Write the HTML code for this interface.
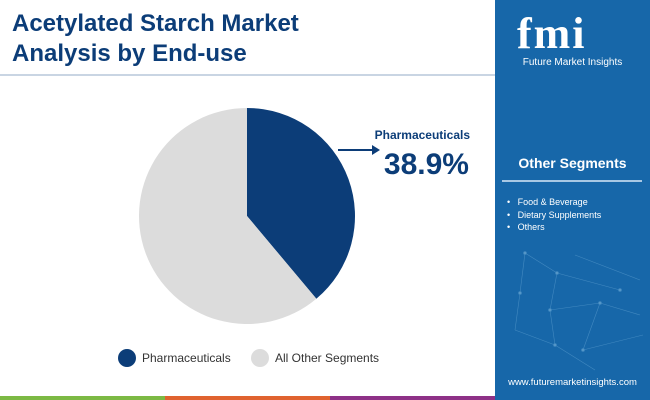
<!DOCTYPE html>
<html><head><meta charset="utf-8"><style>
body{margin:0;width:650px;height:400px;position:relative;overflow:hidden;background:#fff;font-family:"Liberation Sans",sans-serif}
.t{position:absolute;left:12px;top:9px;font-size:24px;font-weight:bold;color:#0c3d78;line-height:30px}
.side{position:absolute;left:495px;top:0;width:155px;height:400px;background:#1767a9}
</style></head><body>
<div class="t">Acetylated Starch Market<br>Analysis by End-use</div>
<div style="position:absolute;left:0;top:74px;width:495px;height:2px;background:#c9d5e3"></div>
<div class="side">
<svg width="155" height="400" style="position:absolute;left:0;top:0">
<g stroke="#5fa0d0" stroke-width="0.6" fill="#7fb6dc" opacity="0.6">
<line x1="30" y1="253" x2="25" y2="293"/><line x1="30" y1="253" x2="62" y2="273"/><line x1="62" y1="273" x2="55" y2="310"/><line x1="80" y1="255" x2="145" y2="280"/><line x1="62" y1="273" x2="125" y2="290"/><line x1="55" y1="310" x2="105" y2="303"/><line x1="25" y1="293" x2="20" y2="330"/><line x1="105" y1="303" x2="145" y2="315"/><line x1="55" y1="310" x2="60" y2="345"/><line x1="20" y1="330" x2="60" y2="345"/><line x1="105" y1="303" x2="88" y2="350"/><line x1="60" y1="345" x2="100" y2="370"/><line x1="88" y1="350" x2="148" y2="335"/>
<circle cx="30" cy="253" r="1.5"/><circle cx="62" cy="273" r="1.5"/><circle cx="55" cy="310" r="1.5"/><circle cx="105" cy="303" r="1.5"/><circle cx="25" cy="293" r="1.5"/><circle cx="60" cy="345" r="1.5"/><circle cx="88" cy="350" r="1.5"/><circle cx="125" cy="290" r="1.5"/>
</g></svg>
<div style="position:absolute;left:22px;top:8px;font-size:44px;font-weight:bold;color:#fff;letter-spacing:2px;font-family:'Liberation Serif',serif">fmi</div>
<div style="position:absolute;left:0;width:155px;top:57px;text-align:center;font-size:10px;color:#fff">Future Market Insights</div>
<div style="position:absolute;left:0;width:155px;top:155px;text-align:center;font-size:14px;font-weight:bold;color:#fff">Other Segments</div>
<div style="position:absolute;left:7px;top:180px;width:140px;height:2px;background:#a8c8e4"></div>
<div style="position:absolute;left:12px;top:196px;font-size:9px;color:#fff;line-height:12.5px">•&nbsp;&nbsp;&nbsp;Food &amp; Beverage<br>•&nbsp;&nbsp;&nbsp;Dietary Supplements<br>•&nbsp;&nbsp;&nbsp;Others</div>
<div style="position:absolute;left:0;width:155px;top:377px;text-align:center;font-size:9.5px;color:#fff">www.futuremarketinsights.com</div>
</div>
<svg id="pie" width="495" height="340" style="position:absolute;left:0;top:0"></svg>
<div style="position:absolute;left:340px;top:128px;width:130px;text-align:right;font-size:12px;font-weight:bold;color:#0c3d78">Pharmaceuticals</div>
<div style="position:absolute;left:350px;top:148px;width:119px;text-align:right;font-size:30px;font-weight:bold;color:#0c3d78">38.9%</div>
<svg width="50" height="20" style="position:absolute;left:336px;top:140px"><line x1="2" y1="10" x2="38" y2="10" stroke="#0c3d78" stroke-width="2"/><polygon points="36,5 44,10 36,15" fill="#0c3d78"/></svg>
<div style="position:absolute;left:118px;top:349px;width:18px;height:18px;border-radius:50%;background:#0c3d78"></div>
<div style="position:absolute;left:142px;top:351px;font-size:12px;color:#333">Pharmaceuticals</div>
<div style="position:absolute;left:251px;top:349px;width:18px;height:18px;border-radius:50%;background:#dcdcdc"></div>
<div style="position:absolute;left:275px;top:351px;font-size:12px;color:#333">All Other Segments</div>
<div style="position:absolute;left:0;top:396px;width:165px;height:4px;background:#7cb944"></div>
<div style="position:absolute;left:165px;top:396px;width:165px;height:4px;background:#e0632f"></div>
<div style="position:absolute;left:330px;top:396px;width:165px;height:4px;background:#8e3187"></div>
<script>
const categories=["Pharmaceuticals","All Other Segments"];
const values=[38.9,61.1];
const colors=["#0c3d78","#dcdcdc"];
const svg=document.getElementById('pie');
const cx=247,cy=216,r=108;
const total=values.reduce((a,b)=>a+b,0);
let a0=0;
values.forEach((v,i)=>{
  const a1=a0+v/total*2*Math.PI;
  const x0=cx+r*Math.sin(a0),y0=cy-r*Math.cos(a0),x1=cx+r*Math.sin(a1),y1=cy-r*Math.cos(a1);
  const p=document.createElementNS('http://www.w3.org/2000/svg','path');
  p.setAttribute('d',`M${cx},${cy}L${x0},${y0}A${r},${r} 0 ${a1-a0>Math.PI?1:0} 1 ${x1},${y1}Z`);
  p.setAttribute('fill',colors[i]);
  
  
  svg.appendChild(p);
  a0=a1;
});
</script>
</body></html>
